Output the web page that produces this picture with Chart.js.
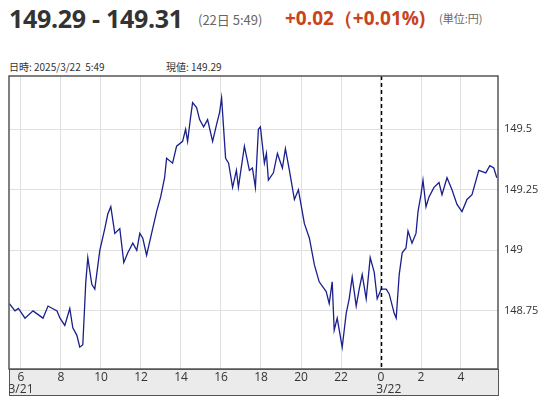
<!DOCTYPE html>
<html>
<head>
<meta charset="utf-8">
<script src="https://cdn.jsdelivr.net/npm/chart.js@4"></script>
<style>
body { margin: 0; width: 553px; height: 400px; position: relative; background: #fff; font-family: "Noto Sans CJK JP", "Open Sans", sans-serif; overflow: hidden; }
#wrap { position: absolute; left: 0; top: 0; width: 553px; height: 400px; }
.t { position: absolute; white-space: nowrap; }
</style>
</head>
<body>
<div class="t" style="left:9px;top:1px;font-size:25px;font-weight:bold;color:#333;font-family:'Open Sans',sans-serif;letter-spacing:-0.3px;">149.29 - 149.31</div>
<div class="t" style="left:198px;top:10px;font-size:13px;color:#666;">(22日 5:49)</div>
<div class="t" style="left:285px;top:5px;font-size:19px;font-weight:bold;color:#c8441c;font-family:'Open Sans',sans-serif;">+0.02（+0.01%)</div>
<div class="t" style="left:439px;top:10px;font-size:11px;color:#666;">(単位:円)</div>
<div class="t" style="left:9px;top:59px;font-size:10px;color:#333;">日時: 2025/3/22&nbsp; 5:49</div>
<div class="t" style="left:166px;top:59px;font-size:10px;color:#333;">現値: 149.29</div>
<div id="wrap"><canvas id="chart"></canvas></div>
<script>
// 時刻 (3/21 0:00 からの時間) と価格
const hours = [5.42, 5.70, 5.87, 6.20, 6.60, 7.10, 7.35, 7.80, 7.95, 8.19, 8.44, 8.59, 8.79, 8.94, 9.09, 9.24, 9.34, 9.54, 9.69, 9.94,
    10.19, 10.34, 10.49, 10.69, 10.94, 11.14, 11.34, 11.59, 11.79, 11.94, 12.09, 12.28, 12.53, 12.78, 12.98, 13.18, 13.28, 13.58, 13.78, 14.08,
    14.23, 14.33, 14.48, 14.58, 14.78, 14.93, 15.13, 15.33, 15.58, 15.78, 15.93, 16.03, 16.23, 16.38, 16.58, 16.77, 16.87, 17.17, 17.42, 17.57,
    17.72, 17.87, 17.97, 18.17, 18.27, 18.37, 18.62, 18.82, 19.07, 19.22, 19.42, 19.67, 19.87, 20.17, 20.42, 20.67, 20.91, 21.26, 21.41, 21.56,
    21.66, 21.81, 22.06, 22.26, 22.41, 22.56, 22.76, 22.91, 23.06, 23.26, 23.46, 23.66, 23.81, 24.01, 24.26, 24.41, 24.66, 24.76, 24.91, 25.06,
    25.25, 25.35, 25.55, 25.75, 25.85, 26.00, 26.10, 26.25, 26.40, 26.65, 26.90, 27.05, 27.30, 27.55, 27.80, 28.05, 28.30, 28.55, 28.89, 29.24,
    29.44, 29.64, 29.79];
const prices = [148.78, 148.75, 148.76, 148.72, 148.75, 148.72, 148.77, 148.75, 148.72, 148.69, 148.76, 148.68, 148.65, 148.60, 148.61, 148.87, 148.97, 148.86, 148.84, 149.00,
    149.09, 149.15, 149.18, 149.07, 149.09, 148.95, 148.99, 149.03, 149.00, 149.07, 149.05, 148.98, 149.07, 149.16, 149.22, 149.30, 149.38, 149.36, 149.43, 149.45,
    149.50, 149.45, 149.55, 149.61, 149.59, 149.54, 149.51, 149.54, 149.45, 149.52, 149.57, 149.63, 149.38, 149.36, 149.26, 149.33, 149.26, 149.43, 149.33, 149.34,
    149.26, 149.50, 149.51, 149.36, 149.40, 149.29, 149.32, 149.40, 149.34, 149.42, 149.33, 149.21, 149.25, 149.11, 149.05, 148.94, 148.87, 148.83, 148.78, 148.87,
    148.67, 148.72, 148.60, 148.74, 148.80, 148.89, 148.77, 148.84, 148.90, 148.80, 148.97, 148.91, 148.80, 148.84, 148.84, 148.82, 148.74, 148.72, 148.90, 148.99,
    149.01, 149.08, 149.03, 149.07, 149.16, 149.23, 149.29, 149.18, 149.22, 149.26, 149.28, 149.23, 149.30, 149.25, 149.19, 149.16, 149.21, 149.23, 149.33, 149.32,
    149.35, 149.34, 149.30];
const xTicks = [6, 8, 10, 12, 14, 16, 18, 20, 22, 24, 26, 28];
const yTicks = [148.75, 149, 149.25, 149.5];
const dayLine = 24;

const frame = {
    id: "frame",
    beforeDraw(chart) {
        const { ctx, chartArea: a } = chart;
        ctx.save();
        ctx.fillStyle = "#ebebeb";
        ctx.fillRect(a.left, a.bottom, a.right - a.left, 26);
        ctx.strokeStyle = "#555";
        ctx.lineWidth = 1;
        ctx.strokeRect(a.left + 0.5, a.bottom + 0.5, a.right - a.left, 26);
        ctx.restore();
    },
    afterDatasetsDraw(chart) {
        const { ctx, chartArea: a, scales } = chart;
        const x = Math.round(scales.x.getPixelForValue(dayLine)) + 0.5;
        ctx.save();
        ctx.strokeStyle = "#000";
        ctx.lineWidth = 1.5;
        ctx.setLineDash([4, 3]);
        ctx.beginPath();
        ctx.moveTo(x, a.top);
        ctx.lineTo(x, a.bottom);
        ctx.stroke();
        ctx.setLineDash([]);
        ctx.strokeStyle = "#555";
        ctx.lineWidth = 1.5;
        ctx.strokeRect(a.left, a.top, a.right - a.left, a.bottom - a.top);
        ctx.restore();
    },
};

new Chart(document.getElementById("chart").getContext("2d"), {
    type: "line",
    data: {
        datasets: [{
            data: hours.map((h, i) => ({ x: h, y: prices[i] })),
            borderColor: "#1a1f8c",
            borderWidth: 1.3,
            pointRadius: 0,
            tension: 0,
        }],
    },
    options: {
        responsive: true,
        maintainAspectRatio: false,
        animation: false,
        layout: { padding: { left: 9, top: 76, right: 0, bottom: 4 } },
        plugins: { legend: { display: false }, tooltip: { enabled: false } },
        scales: {
            x: {
                type: "linear",
                min: 5.4,
                max: 29.85,
                afterBuildTicks: (s) => { s.ticks = xTicks.map(v => ({ value: v })); },
                afterFit: (s) => { s.height = 27; },
                grid: { color: "#e0e0e0", drawTicks: false },
                border: { display: false },
                ticks: {
                    color: "#333",
                    font: { size: 12, family: "Open Sans", lineHeight: 0.95 },
                    padding: 3,
                    maxRotation: 0,
                    callback: (v) => {
                        const h = v % 24;
                        if (v === 6) return ["6", "3/21"];
                        if (v === 24) return ["0", "     3/22"];
                        return String(h);
                    },
                },
            },
            y: {
                position: "right",
                min: 148.51,
                max: 149.72,
                afterBuildTicks: (s) => { s.ticks = yTicks.map(v => ({ value: v })); },
                afterFit: (s) => { s.width = 55; },
                grid: { color: "#e0e0e0", drawTicks: false },
                border: { display: false },
                ticks: {
                    color: "#333",
                    font: { size: 11, family: "Open Sans" },
                    padding: 6,
                    callback: (v) => String(v),
                },
            },
        },
    },
    plugins: [frame],
});
</script>
</body>
</html>
